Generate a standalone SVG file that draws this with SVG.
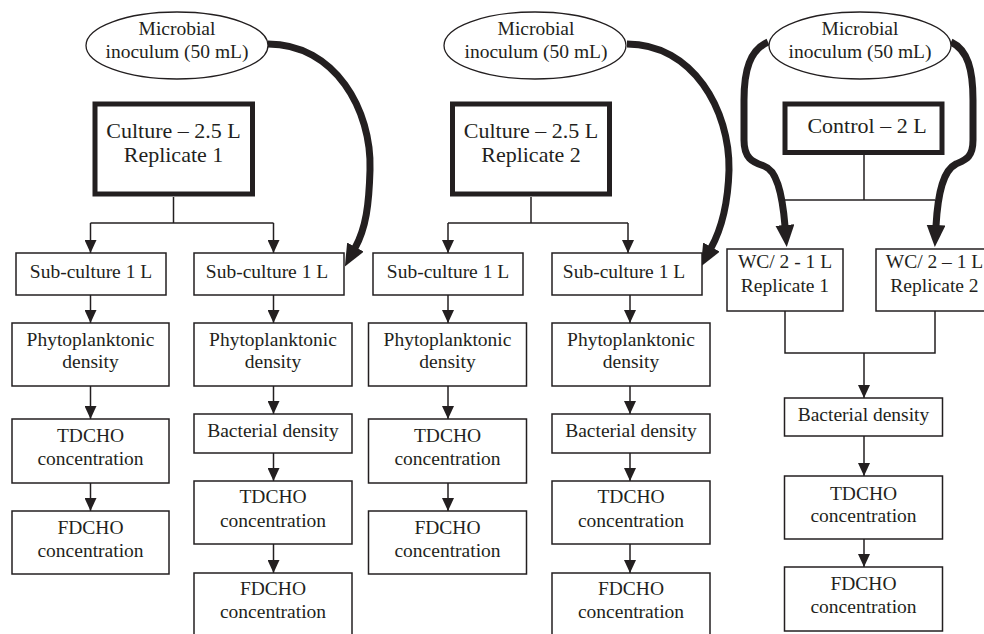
<svg xmlns="http://www.w3.org/2000/svg" width="984" height="634" viewBox="0 0 984 634">
<defs>
<style>
.box{fill:#fff;stroke:#231f20;stroke-width:1.5}
.thick{fill:#fff;stroke:#231f20;stroke-width:5}
.ell{fill:#fff;stroke:#231f20;stroke-width:1.3}
.ln{fill:none;stroke:#231f20;stroke-width:1.5}
.arr{fill:none;stroke:#231f20;stroke-width:1.5;marker-end:url(#ah)}
.big{fill:none;stroke:#231f20;stroke-width:7;marker-end:url(#bh)}
text{font-family:"Liberation Serif","Times New Roman",serif;font-size:19.5px;fill:#231f20;text-anchor:middle}
.t22{font-size:22px}
</style>
<marker id="ah" markerUnits="userSpaceOnUse" viewBox="0 0 13 12" markerWidth="13" markerHeight="12" refX="13" refY="6" orient="auto">
<path d="M0,0 L13,6 L0,12 z" fill="#231f20"/>
</marker>
<marker id="bh" markerUnits="userSpaceOnUse" viewBox="0 0 22 19" markerWidth="22" markerHeight="19" refX="1" refY="9.5" orient="auto">
<path d="M0,0 L22,9.5 L0,19 z" fill="#231f20"/>
</marker>
</defs>
<rect width="984" height="634" fill="#fff"/>
<g id="connectors">
<line class="ln" x1="173.5" y1="197" x2="173.5" y2="223"/>
<line class="ln" x1="90.5" y1="223" x2="273.5" y2="223"/>
<line class="arr" x1="90.5" y1="223" x2="90.5" y2="253"/>
<line class="arr" x1="273.5" y1="223" x2="273.5" y2="253"/>
<line class="arr" x1="90.5" y1="295" x2="90.5" y2="323"/>
<line class="arr" x1="90.5" y1="386" x2="90.5" y2="419"/>
<line class="arr" x1="90.5" y1="483" x2="90.5" y2="511"/>
<line class="arr" x1="273.5" y1="295" x2="273.5" y2="323"/>
<line class="arr" x1="273.5" y1="386" x2="273.5" y2="414"/>
<line class="arr" x1="273.5" y1="453" x2="273.5" y2="481"/>
<line class="arr" x1="273.5" y1="544" x2="273.5" y2="573"/>
<line class="ln" x1="531" y1="197" x2="531" y2="223"/>
<line class="ln" x1="448" y1="223" x2="628" y2="223"/>
<line class="arr" x1="448" y1="223" x2="448" y2="253"/>
<line class="arr" x1="628" y1="223" x2="628" y2="253"/>
<line class="arr" x1="448" y1="295" x2="448" y2="323"/>
<line class="arr" x1="448" y1="386" x2="448" y2="419"/>
<line class="arr" x1="448" y1="483" x2="448" y2="511"/>
<line class="arr" x1="630" y1="295" x2="630" y2="323"/>
<line class="arr" x1="630" y1="386" x2="630" y2="414"/>
<line class="arr" x1="630" y1="453" x2="630" y2="481"/>
<line class="arr" x1="630" y1="544" x2="630" y2="573"/>
<line class="ln" x1="864" y1="155" x2="864" y2="200"/>
<line class="ln" x1="785" y1="200" x2="935" y2="200"/>
<path class="ln" d="M785,311 V353 H935 V311"/>
<line class="arr" x1="864" y1="353" x2="864" y2="398"/>
<line class="arr" x1="864" y1="436" x2="864" y2="476"/>
<line class="arr" x1="864" y1="539" x2="864" y2="567"/>
<path class="big" d="M268,44 C335,44 372,110 370,170 C369,205 366,228 355,248"/>
<path class="big" d="M627,44 C693,44 730,110 729,170 C728,205 722,228 711,248"/>
<path class="big" d="M768,42 C750,50 744,70 744,100 L744,140 C744,158 752,162 764,166 C776,170 782,190 785,226"/>
<path class="big" d="M951,42 C968,50 973,70 973,100 L973,140 C973,158 965,160 956,164 C944,170 938,190 936,226"/>
</g>
<g id="inoc1"><ellipse class="ell" cx="177" cy="45.5" rx="91" ry="33.5"/><text x="177" y="35">Microbial</text><text x="177" y="58">inoculum (50 mL)</text></g>
<g id="inoc2"><ellipse class="ell" cx="535" cy="45.5" rx="91" ry="33.5"/><text x="536" y="35">Microbial</text><text x="536" y="58">inoculum (50 mL)</text></g>
<g id="inoc3"><ellipse class="ell" cx="860" cy="45.5" rx="91" ry="33.5"/><text x="860" y="35">Microbial</text><text x="860" y="58">inoculum (50 mL)</text></g>
<g id="culture1"><rect class="thick" x="95" y="104" width="157.5" height="90"/><text class="t22" x="173.5" y="138">Culture – 2.5 L</text><text class="t22" x="173.5" y="162">Replicate 1</text></g>
<g id="culture2"><rect class="thick" x="452.5" y="104" width="157" height="90"/><text class="t22" x="531" y="138">Culture – 2.5 L</text><text class="t22" x="531" y="162">Replicate 2</text></g>
<g id="control"><rect class="thick" x="785" y="104" width="157" height="48.5"/><text class="t22" x="867" y="133">Control – 2 L</text></g>
<g id="sub1"><rect class="box" x="16" y="253" width="150" height="42"/><text x="91" y="278">Sub-culture 1 L</text></g>
<g id="sub2"><rect class="box" x="194" y="253" width="150" height="42"/><text x="267" y="278">Sub-culture 1 L</text></g>
<g id="sub3"><rect class="box" x="373" y="253" width="150" height="42"/><text x="448" y="278">Sub-culture 1 L</text></g>
<g id="sub4"><rect class="box" x="552" y="253" width="150" height="42"/><text x="624" y="278">Sub-culture 1 L</text></g>
<g id="wc1"><rect class="box" x="727" y="249" width="116" height="62"/><text x="785" y="268">WC/ 2 - 1 L</text><text x="785" y="292">Replicate 1</text></g>
<g id="wc2"><rect class="box" x="876" y="249" width="117" height="62"/><text x="934.5" y="268">WC/ 2 – 1 L</text><text x="934.5" y="292">Replicate 2</text></g>
<g id="phyto1"><rect class="box" x="12" y="323" width="157" height="63"/><text x="90.5" y="346">Phytoplanktonic</text><text x="90.5" y="368">density</text></g>
<g id="td1"><rect class="box" x="12" y="419" width="157" height="64"/><text x="90.5" y="442">TDCHO</text><text x="90.5" y="465">concentration</text></g>
<g id="fd1"><rect class="box" x="12" y="511" width="157" height="63"/><text x="90.5" y="534">FDCHO</text><text x="90.5" y="557">concentration</text></g>
<g id="phyto2"><rect class="box" x="194" y="323" width="158" height="63"/><text x="273" y="346">Phytoplanktonic</text><text x="273" y="368">density</text></g>
<g id="bac2"><rect class="box" x="194" y="414" width="158" height="39"/><text x="273" y="437">Bacterial density</text></g>
<g id="td2"><rect class="box" x="194" y="481" width="158" height="63"/><text x="273" y="503">TDCHO</text><text x="273" y="527">concentration</text></g>
<g id="fd2"><rect class="box" x="194" y="573" width="158" height="70"/><text x="273" y="595">FDCHO</text><text x="273" y="618">concentration</text></g>
<g id="phyto3"><rect class="box" x="368.5" y="323" width="158" height="63"/><text x="447.5" y="346">Phytoplanktonic</text><text x="447.5" y="368">density</text></g>
<g id="td3"><rect class="box" x="368.5" y="419" width="158" height="64"/><text x="447.5" y="442">TDCHO</text><text x="447.5" y="465">concentration</text></g>
<g id="fd3"><rect class="box" x="368.5" y="511" width="158" height="63"/><text x="447.5" y="534">FDCHO</text><text x="447.5" y="557">concentration</text></g>
<g id="phyto4"><rect class="box" x="552" y="323" width="158" height="63"/><text x="631" y="346">Phytoplanktonic</text><text x="631" y="368">density</text></g>
<g id="bac4"><rect class="box" x="552" y="414" width="158" height="39"/><text x="631" y="437">Bacterial density</text></g>
<g id="td4"><rect class="box" x="552" y="481" width="158" height="63"/><text x="631" y="503">TDCHO</text><text x="631" y="527">concentration</text></g>
<g id="fd4"><rect class="box" x="552" y="573" width="158" height="70"/><text x="631" y="595">FDCHO</text><text x="631" y="618">concentration</text></g>
<g id="bac5"><rect class="box" x="784.5" y="398" width="158" height="38"/><text x="863.5" y="421">Bacterial density</text></g>
<g id="td5"><rect class="box" x="784.5" y="476" width="158" height="63"/><text x="863.5" y="500">TDCHO</text><text x="863.5" y="522">concentration</text></g>
<g id="fd5"><rect class="box" x="784.5" y="567" width="158" height="64"/><text x="863.5" y="590">FDCHO</text><text x="863.5" y="613">concentration</text></g>
</svg>
